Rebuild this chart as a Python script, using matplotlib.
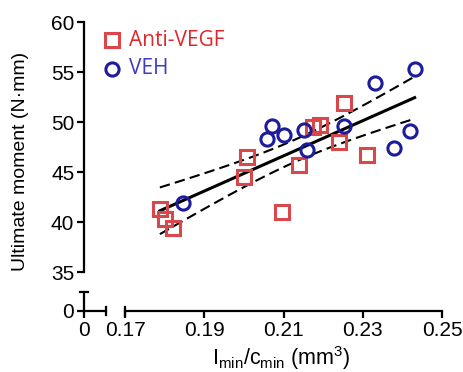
import matplotlib
matplotlib.use("Agg")
import matplotlib.pyplot as plt
import numpy as np

# values
anti_x = [0.1788, 0.1801, 0.1820, 0.2000, 0.2008, 0.2096, 0.2138, 0.2175, 0.2192, 0.2239, 0.2252, 0.2311]
anti_y = [41.3, 40.3, 39.4, 44.5, 46.5, 41.0, 45.7, 49.5, 49.7, 48.0, 51.9, 46.7]
veh_x = [0.1847, 0.2058, 0.2071, 0.2100, 0.2151, 0.2159, 0.2252, 0.2330, 0.2380, 0.2419, 0.2431]
veh_y = [41.9, 48.3, 49.6, 48.7, 49.2, 47.2, 49.6, 53.9, 47.4, 49.1, 55.3]

x_ticks = [0.17, 0.19, 0.21, 0.23, 0.25]
x_ticklabels = ["0.17", "0.19", "0.21", "0.23", "0.25"]
y_ticks = [35, 40, 45, 50, 55, 60]

RED = "#d9474b"
BLUE = "#1c1c9c"

plt.rcParams["font.family"] = ["Liberation Sans", "DejaVu Sans"]

W, H = 464, 372
fig = plt.figure(figsize=(W / 100, H / 100), dpi=100)

# main axes: data area 0.17..0.25 / 35..60
x0, x1, ytop, y35, yaxis = 125, 442, 22, 272, 311
ax = fig.add_axes([x0 / W, (H - y35) / H, (x1 - x0) / W, (y35 - ytop) / H])
ax.set_xlim(0.17, 0.25)
ax.set_ylim(35, 60)
ax.patch.set_alpha(0)
for s in ("top", "right"):
    ax.spines[s].set_visible(False)
ax.spines["left"].set_position(("axes", (84 - x0) / (x1 - x0)))
ax.spines["bottom"].set_position(("axes", (y35 - yaxis) / (y35 - ytop)))
ax.spines["left"].set_bounds(35, 60)
ax.spines["bottom"].set_bounds(0.17, 0.25)
for s in ("left", "bottom"):
    ax.spines[s].set_linewidth(1.6)
ax.set_xticks(x_ticks)
ax.set_xticklabels(x_ticklabels)
ax.set_yticks(y_ticks)
ax.tick_params(width=1.6, length=5, labelsize=15, pad=2)

# cap at the start of the broken x axis
bx = ax.get_xaxis_transform()
yb = (y35 - yaxis) / (y35 - ytop)
ax.plot([0.17, 0.17], [yb - 0.018, yb + 0.018], color="black", lw=1.6,
        transform=bx, clip_on=False)

# regression with 95% confidence band
xs = np.array(anti_x + veh_x)
ys = np.array(anti_y + veh_y)
n = len(xs)
slope, icpt = np.polyfit(xs, ys, 1)
resid = ys - (slope * xs + icpt)
s_err = np.sqrt(np.sum(resid ** 2) / (n - 2))
xf = np.linspace(xs.min(), xs.max(), 100)
yf = slope * xf + icpt
t = 2.08
ci = t * s_err * np.sqrt(1 / n + (xf - xs.mean()) ** 2 / np.sum((xs - xs.mean()) ** 2))
ax.plot(xf, yf, color="black", lw=2.2, zorder=2)
ax.plot(xf, yf + ci, color="black", lw=1.5, ls=(0, (5, 2.5)), zorder=2)
ax.plot(xf, yf - ci, color="black", lw=1.5, ls=(0, (5, 2.5)), zorder=2)

ax.plot(anti_x, anti_y, ls="none", marker="s", ms=10, mfc="none", mec=RED, mew=2.2,
        clip_on=False, zorder=3)
ax.plot(veh_x, veh_y, ls="none", marker="o", ms=9.5, mfc="none", mec=BLUE, mew=2.2,
        clip_on=False, zorder=3)

# legend drawn as markers + coloured text
lg = fig.transFigure
fig.lines.append(plt.Line2D([112 / W], [(H - 40) / H], transform=lg, marker="s", ms=10,
                            mfc="none", mec=RED, mew=2.2, ls="none"))
fig.lines.append(plt.Line2D([112 / W], [(H - 69) / H], transform=lg, marker="o", ms=9.5,
                            mfc="none", mec=BLUE, mew=2.2, ls="none"))
fig.text(129 / W, (H - 40) / H, "Anti-VEGF", color="#e0262b", fontsize=15,
         family="Open Sans", va="center", ha="left")
fig.text(129 / W, (H - 69) / H, "VEH", color="#3b3bc4", fontsize=15,
         family="Open Sans", va="center", ha="left")

ax.set_ylabel("Ultimate moment (N·mm)", fontsize=14)
ax.yaxis.set_label_coords((21 - x0) / (x1 - x0), (y35 - 161) / (y35 - ytop))
ax.yaxis.label.set_va("center")
ax.set_xlabel(r"I$_{\mathregular{min}}$/c$_{\mathregular{min}}$ (mm$^{\mathregular{3}}$)", fontsize=15.5)
ax.xaxis.set_label_coords((281 - x0) / (x1 - x0), (y35 - 365) / (y35 - ytop))
ax.xaxis.label.set_va("baseline")

# small zero segment for both axes
z1, ztop = 106, 292
ax0 = fig.add_axes([84 / W, (H - yaxis) / H, (z1 - 84) / W, (yaxis - ztop) / H])
ax0.set_xlim(0, 1)
ax0.set_ylim(0, 1)
ax0.patch.set_alpha(0)
for s in ("top", "right"):
    ax0.spines[s].set_visible(False)
for s in ("left", "bottom"):
    ax0.spines[s].set_linewidth(1.6)
ax0.set_xticks([0])
ax0.set_xticklabels(["0"])
ax0.set_yticks([0])
ax0.set_yticklabels(["0"])
ax0.tick_params(width=1.6, length=5, labelsize=15, pad=2)
ax0.plot([1, 1], [-0.21, 0.21], color="black", lw=1.6, clip_on=False)
ax0.plot([-0.18, 0.18], [1, 1], color="black", lw=1.6, clip_on=False)

fig.savefig("out.png", dpi=100)
